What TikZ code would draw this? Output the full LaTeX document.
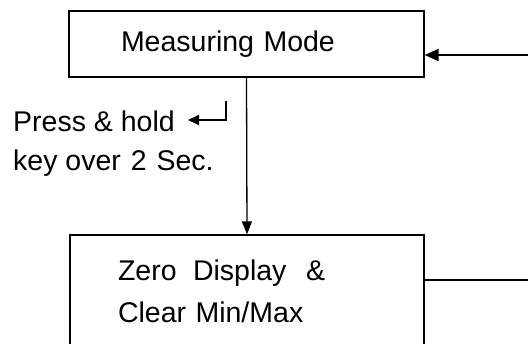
\documentclass[tikz,border=0pt]{standalone}
\usepackage{fontspec}
\setmainfont{Liberation Sans}
\usetikzlibrary{arrows.meta}
\begin{document}
\begin{tikzpicture}[x=1pt,y=-1pt,
    modebox/.style={draw,line width=1.3pt,align=left,inner ysep=0pt,
      font=\fontsize{28.5}{42}\selectfont},
    hint/.style={anchor=base west,inner sep=0pt,font=\fontsize{28.5}{38}\selectfont}]
  \useasboundingbox (0,0) rectangle (528,344);
  \draw
    (246.5,44) node[modebox,text width=251pt,inner xsep=52pt,minimum height=66pt] (measure){Measuring Mode}
    (247,291) node[modebox,text width=258pt,inner xsep=48pt,minimum height=112pt] (zero){Zero\hspace{7pt} Display\hspace{10pt} \&\\Clear Min/Max}
    (13,132) node[hint] (press){Press \& hold}
    (13,171) node[hint] (key){key over\hspace{2pt} 2\hspace{2pt} Sec.};
  \coordinate (backin) at (528,55);
  \coordinate (backout) at (528,280);
  \coordinate (enterkey) at (226,101);
  \begin{scope}[-{Triangle[length=14pt,width=12pt]}]
    \draw[line width=2.4pt] (backin) to (measure.east |- backin);
    \draw[line width=1.3pt,-{Triangle[length=13pt,width=10pt]}] (measure.south) to (zero.north);
    \draw[-, line width=1.3pt] (zero.east |- backout) to (backout);
    \draw[line width=1.8pt,-{Triangle[length=11pt,width=10pt]}] (enterkey) -- ++(0,19) -- ++(-38,0);
  \end{scope}
\end{tikzpicture}
\end{document}
